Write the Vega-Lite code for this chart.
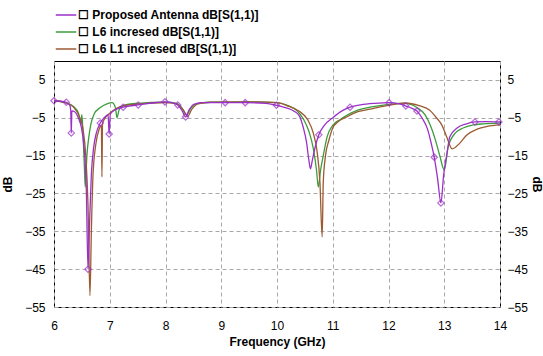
{
  "$schema": "https://vega.github.io/schema/vega-lite/v6.json",
  "width": 446,
  "height": 246,
  "autosize": "none",
  "padding": {"left": 54, "top": 61, "right": 43, "bottom": 49},
  "background": "white",
  "config": {"view": {"stroke": "black", "strokeWidth": 1}, "font": "Liberation Sans"},
  "datasets": {
    "curves": [
      {"series": "L6 incresed dB[S(1,1)]", "freq": 6.0, "dB": -0.5},
      {"series": "L6 incresed dB[S(1,1)]", "freq": 6.2, "dB": -1.0},
      {"series": "L6 incresed dB[S(1,1)]", "freq": 6.35, "dB": -2.0},
      {"series": "L6 incresed dB[S(1,1)]", "freq": 6.44, "dB": -3.8},
      {"series": "L6 incresed dB[S(1,1)]", "freq": 6.48, "dB": -6.5},
      {"series": "L6 incresed dB[S(1,1)]", "freq": 6.5, "dB": -4.2},
      {"series": "L6 incresed dB[S(1,1)]", "freq": 6.52, "dB": -9.0},
      {"series": "L6 incresed dB[S(1,1)]", "freq": 6.545, "dB": -18.0},
      {"series": "L6 incresed dB[S(1,1)]", "freq": 6.56, "dB": -23.3},
      {"series": "L6 incresed dB[S(1,1)]", "freq": 6.59, "dB": -15.0},
      {"series": "L6 incresed dB[S(1,1)]", "freq": 6.63, "dB": -9.5},
      {"series": "L6 incresed dB[S(1,1)]", "freq": 6.66, "dB": -6.8},
      {"series": "L6 incresed dB[S(1,1)]", "freq": 6.72, "dB": -4.0},
      {"series": "L6 incresed dB[S(1,1)]", "freq": 6.83, "dB": -2.3},
      {"series": "L6 incresed dB[S(1,1)]", "freq": 6.95, "dB": -1.3},
      {"series": "L6 incresed dB[S(1,1)]", "freq": 7.04, "dB": -1.0},
      {"series": "L6 incresed dB[S(1,1)]", "freq": 7.1, "dB": -2.2},
      {"series": "L6 incresed dB[S(1,1)]", "freq": 7.13, "dB": -5.0},
      {"series": "L6 incresed dB[S(1,1)]", "freq": 7.17, "dB": -2.8},
      {"series": "L6 incresed dB[S(1,1)]", "freq": 7.25, "dB": -1.7},
      {"series": "L6 incresed dB[S(1,1)]", "freq": 7.5, "dB": -1.2},
      {"series": "L6 incresed dB[S(1,1)]", "freq": 8.0, "dB": -0.9},
      {"series": "L6 incresed dB[S(1,1)]", "freq": 8.2, "dB": -1.2},
      {"series": "L6 incresed dB[S(1,1)]", "freq": 8.3, "dB": -2.5},
      {"series": "L6 incresed dB[S(1,1)]", "freq": 8.38, "dB": -4.3},
      {"series": "L6 incresed dB[S(1,1)]", "freq": 8.45, "dB": -2.5},
      {"series": "L6 incresed dB[S(1,1)]", "freq": 8.55, "dB": -1.3},
      {"series": "L6 incresed dB[S(1,1)]", "freq": 8.8, "dB": -0.9},
      {"series": "L6 incresed dB[S(1,1)]", "freq": 9.5, "dB": -0.8},
      {"series": "L6 incresed dB[S(1,1)]", "freq": 10.0, "dB": -1.0},
      {"series": "L6 incresed dB[S(1,1)]", "freq": 10.2, "dB": -1.8},
      {"series": "L6 incresed dB[S(1,1)]", "freq": 10.35, "dB": -3.0},
      {"series": "L6 incresed dB[S(1,1)]", "freq": 10.48, "dB": -5.5},
      {"series": "L6 incresed dB[S(1,1)]", "freq": 10.57, "dB": -8.5},
      {"series": "L6 incresed dB[S(1,1)]", "freq": 10.65, "dB": -13.0},
      {"series": "L6 incresed dB[S(1,1)]", "freq": 10.71, "dB": -19.0},
      {"series": "L6 incresed dB[S(1,1)]", "freq": 10.74, "dB": -23.3},
      {"series": "L6 incresed dB[S(1,1)]", "freq": 10.78, "dB": -19.0},
      {"series": "L6 incresed dB[S(1,1)]", "freq": 10.83, "dB": -15.0},
      {"series": "L6 incresed dB[S(1,1)]", "freq": 10.9, "dB": -10.0},
      {"series": "L6 incresed dB[S(1,1)]", "freq": 11.0, "dB": -7.0},
      {"series": "L6 incresed dB[S(1,1)]", "freq": 11.13, "dB": -5.5},
      {"series": "L6 incresed dB[S(1,1)]", "freq": 11.26, "dB": -4.3},
      {"series": "L6 incresed dB[S(1,1)]", "freq": 11.45, "dB": -3.0},
      {"series": "L6 incresed dB[S(1,1)]", "freq": 11.67, "dB": -2.2},
      {"series": "L6 incresed dB[S(1,1)]", "freq": 11.97, "dB": -1.5},
      {"series": "L6 incresed dB[S(1,1)]", "freq": 12.3, "dB": -1.2},
      {"series": "L6 incresed dB[S(1,1)]", "freq": 12.5, "dB": -2.2},
      {"series": "L6 incresed dB[S(1,1)]", "freq": 12.66, "dB": -4.3},
      {"series": "L6 incresed dB[S(1,1)]", "freq": 12.75, "dB": -7.0},
      {"series": "L6 incresed dB[S(1,1)]", "freq": 12.83, "dB": -10.3},
      {"series": "L6 incresed dB[S(1,1)]", "freq": 12.92, "dB": -15.0},
      {"series": "L6 incresed dB[S(1,1)]", "freq": 13.0, "dB": -18.8},
      {"series": "L6 incresed dB[S(1,1)]", "freq": 13.07, "dB": -12.7},
      {"series": "L6 incresed dB[S(1,1)]", "freq": 13.2, "dB": -9.0},
      {"series": "L6 incresed dB[S(1,1)]", "freq": 13.34, "dB": -7.7},
      {"series": "L6 incresed dB[S(1,1)]", "freq": 13.52, "dB": -6.9},
      {"series": "L6 incresed dB[S(1,1)]", "freq": 13.7, "dB": -6.6},
      {"series": "L6 incresed dB[S(1,1)]", "freq": 14.0, "dB": -6.4},

      {"series": "L6 L1 incresed dB[S(1,1)]", "freq": 6.0, "dB": -0.5},
      {"series": "L6 L1 incresed dB[S(1,1)]", "freq": 6.2, "dB": -1.0},
      {"series": "L6 L1 incresed dB[S(1,1)]", "freq": 6.35, "dB": -2.2},
      {"series": "L6 L1 incresed dB[S(1,1)]", "freq": 6.45, "dB": -4.5},
      {"series": "L6 L1 incresed dB[S(1,1)]", "freq": 6.52, "dB": -8.0},
      {"series": "L6 L1 incresed dB[S(1,1)]", "freq": 6.57, "dB": -15.0},
      {"series": "L6 L1 incresed dB[S(1,1)]", "freq": 6.61, "dB": -28.0},
      {"series": "L6 L1 incresed dB[S(1,1)]", "freq": 6.645, "dB": -52.0},
      {"series": "L6 L1 incresed dB[S(1,1)]", "freq": 6.67, "dB": -35.0},
      {"series": "L6 L1 incresed dB[S(1,1)]", "freq": 6.7, "dB": -20.0},
      {"series": "L6 L1 incresed dB[S(1,1)]", "freq": 6.75, "dB": -12.0},
      {"series": "L6 L1 incresed dB[S(1,1)]", "freq": 6.81, "dB": -8.0},
      {"series": "L6 L1 incresed dB[S(1,1)]", "freq": 6.85, "dB": -7.0},
      {"series": "L6 L1 incresed dB[S(1,1)]", "freq": 6.86, "dB": -20.6},
      {"series": "L6 L1 incresed dB[S(1,1)]", "freq": 6.87, "dB": -6.5},
      {"series": "L6 L1 incresed dB[S(1,1)]", "freq": 6.92, "dB": -5.0},
      {"series": "L6 L1 incresed dB[S(1,1)]", "freq": 7.0, "dB": -3.8},
      {"series": "L6 L1 incresed dB[S(1,1)]", "freq": 7.1, "dB": -2.7},
      {"series": "L6 L1 incresed dB[S(1,1)]", "freq": 7.25, "dB": -1.8},
      {"series": "L6 L1 incresed dB[S(1,1)]", "freq": 7.5, "dB": -1.4},
      {"series": "L6 L1 incresed dB[S(1,1)]", "freq": 8.0, "dB": -1.0},
      {"series": "L6 L1 incresed dB[S(1,1)]", "freq": 8.2, "dB": -1.3},
      {"series": "L6 L1 incresed dB[S(1,1)]", "freq": 8.32, "dB": -3.0},
      {"series": "L6 L1 incresed dB[S(1,1)]", "freq": 8.4, "dB": -4.6},
      {"series": "L6 L1 incresed dB[S(1,1)]", "freq": 8.47, "dB": -2.8},
      {"series": "L6 L1 incresed dB[S(1,1)]", "freq": 8.58, "dB": -1.3},
      {"series": "L6 L1 incresed dB[S(1,1)]", "freq": 8.8, "dB": -0.9},
      {"series": "L6 L1 incresed dB[S(1,1)]", "freq": 9.5, "dB": -0.8},
      {"series": "L6 L1 incresed dB[S(1,1)]", "freq": 10.0, "dB": -1.0},
      {"series": "L6 L1 incresed dB[S(1,1)]", "freq": 10.2, "dB": -1.9},
      {"series": "L6 L1 incresed dB[S(1,1)]", "freq": 10.4, "dB": -3.3},
      {"series": "L6 L1 incresed dB[S(1,1)]", "freq": 10.55, "dB": -5.5},
      {"series": "L6 L1 incresed dB[S(1,1)]", "freq": 10.65, "dB": -9.0},
      {"series": "L6 L1 incresed dB[S(1,1)]", "freq": 10.72, "dB": -14.0},
      {"series": "L6 L1 incresed dB[S(1,1)]", "freq": 10.77, "dB": -22.0},
      {"series": "L6 L1 incresed dB[S(1,1)]", "freq": 10.81, "dB": -36.5},
      {"series": "L6 L1 incresed dB[S(1,1)]", "freq": 10.83, "dB": -22.0},
      {"series": "L6 L1 incresed dB[S(1,1)]", "freq": 10.87, "dB": -15.0},
      {"series": "L6 L1 incresed dB[S(1,1)]", "freq": 10.93, "dB": -11.0},
      {"series": "L6 L1 incresed dB[S(1,1)]", "freq": 11.0, "dB": -7.7},
      {"series": "L6 L1 incresed dB[S(1,1)]", "freq": 11.1, "dB": -6.0},
      {"series": "L6 L1 incresed dB[S(1,1)]", "freq": 11.25, "dB": -4.8},
      {"series": "L6 L1 incresed dB[S(1,1)]", "freq": 11.45, "dB": -3.4},
      {"series": "L6 L1 incresed dB[S(1,1)]", "freq": 11.67, "dB": -2.7},
      {"series": "L6 L1 incresed dB[S(1,1)]", "freq": 11.97, "dB": -1.8},
      {"series": "L6 L1 incresed dB[S(1,1)]", "freq": 12.3, "dB": -1.1},
      {"series": "L6 L1 incresed dB[S(1,1)]", "freq": 12.55, "dB": -1.8},
      {"series": "L6 L1 incresed dB[S(1,1)]", "freq": 12.74, "dB": -3.0},
      {"series": "L6 L1 incresed dB[S(1,1)]", "freq": 12.86, "dB": -5.0},
      {"series": "L6 L1 incresed dB[S(1,1)]", "freq": 12.96, "dB": -7.0},
      {"series": "L6 L1 incresed dB[S(1,1)]", "freq": 13.05, "dB": -10.3},
      {"series": "L6 L1 incresed dB[S(1,1)]", "freq": 13.14, "dB": -13.2},
      {"series": "L6 L1 incresed dB[S(1,1)]", "freq": 13.28, "dB": -11.7},
      {"series": "L6 L1 incresed dB[S(1,1)]", "freq": 13.4, "dB": -9.6},
      {"series": "L6 L1 incresed dB[S(1,1)]", "freq": 13.59, "dB": -8.0},
      {"series": "L6 L1 incresed dB[S(1,1)]", "freq": 13.77, "dB": -7.3},
      {"series": "L6 L1 incresed dB[S(1,1)]", "freq": 14.0, "dB": -6.9},

      {"series": "Proposed Antenna dB[S(1,1)]", "freq": 6.0, "dB": -0.5},
      {"series": "Proposed Antenna dB[S(1,1)]", "freq": 6.1, "dB": -0.6},
      {"series": "Proposed Antenna dB[S(1,1)]", "freq": 6.22, "dB": -0.9},
      {"series": "Proposed Antenna dB[S(1,1)]", "freq": 6.28, "dB": -1.6},
      {"series": "Proposed Antenna dB[S(1,1)]", "freq": 6.3, "dB": -3.0},
      {"series": "Proposed Antenna dB[S(1,1)]", "freq": 6.31, "dB": -9.0},
      {"series": "Proposed Antenna dB[S(1,1)]", "freq": 6.32, "dB": -3.2},
      {"series": "Proposed Antenna dB[S(1,1)]", "freq": 6.37, "dB": -3.4},
      {"series": "Proposed Antenna dB[S(1,1)]", "freq": 6.43, "dB": -4.8},
      {"series": "Proposed Antenna dB[S(1,1)]", "freq": 6.49, "dB": -7.5},
      {"series": "Proposed Antenna dB[S(1,1)]", "freq": 6.54, "dB": -13.0},
      {"series": "Proposed Antenna dB[S(1,1)]", "freq": 6.58, "dB": -24.0},
      {"series": "Proposed Antenna dB[S(1,1)]", "freq": 6.61, "dB": -45.0},
      {"series": "Proposed Antenna dB[S(1,1)]", "freq": 6.64, "dB": -32.0},
      {"series": "Proposed Antenna dB[S(1,1)]", "freq": 6.67, "dB": -20.0},
      {"series": "Proposed Antenna dB[S(1,1)]", "freq": 6.71, "dB": -13.0},
      {"series": "Proposed Antenna dB[S(1,1)]", "freq": 6.76, "dB": -9.0},
      {"series": "Proposed Antenna dB[S(1,1)]", "freq": 6.83, "dB": -6.4},
      {"series": "Proposed Antenna dB[S(1,1)]", "freq": 6.9, "dB": -5.0},
      {"series": "Proposed Antenna dB[S(1,1)]", "freq": 6.97, "dB": -4.2},
      {"series": "Proposed Antenna dB[S(1,1)]", "freq": 6.99, "dB": -9.3},
      {"series": "Proposed Antenna dB[S(1,1)]", "freq": 7.01, "dB": -4.0},
      {"series": "Proposed Antenna dB[S(1,1)]", "freq": 7.1, "dB": -2.9},
      {"series": "Proposed Antenna dB[S(1,1)]", "freq": 7.24, "dB": -2.2},
      {"series": "Proposed Antenna dB[S(1,1)]", "freq": 7.51, "dB": -1.6},
      {"series": "Proposed Antenna dB[S(1,1)]", "freq": 7.75, "dB": -1.1},
      {"series": "Proposed Antenna dB[S(1,1)]", "freq": 7.99, "dB": -0.8},
      {"series": "Proposed Antenna dB[S(1,1)]", "freq": 8.12, "dB": -1.0},
      {"series": "Proposed Antenna dB[S(1,1)]", "freq": 8.22, "dB": -1.6},
      {"series": "Proposed Antenna dB[S(1,1)]", "freq": 8.3, "dB": -3.2},
      {"series": "Proposed Antenna dB[S(1,1)]", "freq": 8.36, "dB": -4.8},
      {"series": "Proposed Antenna dB[S(1,1)]", "freq": 8.42, "dB": -3.0},
      {"series": "Proposed Antenna dB[S(1,1)]", "freq": 8.5, "dB": -1.5},
      {"series": "Proposed Antenna dB[S(1,1)]", "freq": 8.65, "dB": -1.0},
      {"series": "Proposed Antenna dB[S(1,1)]", "freq": 9.07, "dB": -1.0},
      {"series": "Proposed Antenna dB[S(1,1)]", "freq": 9.43, "dB": -1.0},
      {"series": "Proposed Antenna dB[S(1,1)]", "freq": 9.8, "dB": -1.2},
      {"series": "Proposed Antenna dB[S(1,1)]", "freq": 9.99, "dB": -1.7},
      {"series": "Proposed Antenna dB[S(1,1)]", "freq": 10.15, "dB": -2.3},
      {"series": "Proposed Antenna dB[S(1,1)]", "freq": 10.3, "dB": -3.2},
      {"series": "Proposed Antenna dB[S(1,1)]", "freq": 10.4, "dB": -4.5},
      {"series": "Proposed Antenna dB[S(1,1)]", "freq": 10.47, "dB": -7.5},
      {"series": "Proposed Antenna dB[S(1,1)]", "freq": 10.53, "dB": -11.5},
      {"series": "Proposed Antenna dB[S(1,1)]", "freq": 10.57, "dB": -16.0},
      {"series": "Proposed Antenna dB[S(1,1)]", "freq": 10.6, "dB": -18.5},
      {"series": "Proposed Antenna dB[S(1,1)]", "freq": 10.63, "dB": -16.5},
      {"series": "Proposed Antenna dB[S(1,1)]", "freq": 10.68, "dB": -13.0},
      {"series": "Proposed Antenna dB[S(1,1)]", "freq": 10.75, "dB": -9.5},
      {"series": "Proposed Antenna dB[S(1,1)]", "freq": 10.85, "dB": -7.0},
      {"series": "Proposed Antenna dB[S(1,1)]", "freq": 11.0, "dB": -5.0},
      {"series": "Proposed Antenna dB[S(1,1)]", "freq": 11.15, "dB": -3.3},
      {"series": "Proposed Antenna dB[S(1,1)]", "freq": 11.31, "dB": -2.2},
      {"series": "Proposed Antenna dB[S(1,1)]", "freq": 11.5, "dB": -1.6},
      {"series": "Proposed Antenna dB[S(1,1)]", "freq": 11.75, "dB": -1.2},
      {"series": "Proposed Antenna dB[S(1,1)]", "freq": 12.01, "dB": -1.0},
      {"series": "Proposed Antenna dB[S(1,1)]", "freq": 12.2, "dB": -1.3},
      {"series": "Proposed Antenna dB[S(1,1)]", "freq": 12.31, "dB": -1.9},
      {"series": "Proposed Antenna dB[S(1,1)]", "freq": 12.42, "dB": -2.5},
      {"series": "Proposed Antenna dB[S(1,1)]", "freq": 12.51, "dB": -3.2},
      {"series": "Proposed Antenna dB[S(1,1)]", "freq": 12.6, "dB": -5.0},
      {"series": "Proposed Antenna dB[S(1,1)]", "freq": 12.7, "dB": -8.0},
      {"series": "Proposed Antenna dB[S(1,1)]", "freq": 12.77, "dB": -12.0},
      {"series": "Proposed Antenna dB[S(1,1)]", "freq": 12.82, "dB": -15.4},
      {"series": "Proposed Antenna dB[S(1,1)]", "freq": 12.88, "dB": -21.0},
      {"series": "Proposed Antenna dB[S(1,1)]", "freq": 12.94, "dB": -27.5},
      {"series": "Proposed Antenna dB[S(1,1)]", "freq": 12.99, "dB": -20.0},
      {"series": "Proposed Antenna dB[S(1,1)]", "freq": 13.05, "dB": -14.3},
      {"series": "Proposed Antenna dB[S(1,1)]", "freq": 13.1, "dB": -10.0},
      {"series": "Proposed Antenna dB[S(1,1)]", "freq": 13.23, "dB": -7.7},
      {"series": "Proposed Antenna dB[S(1,1)]", "freq": 13.4, "dB": -6.6},
      {"series": "Proposed Antenna dB[S(1,1)]", "freq": 13.55, "dB": -6.1},
      {"series": "Proposed Antenna dB[S(1,1)]", "freq": 13.75, "dB": -6.0},
      {"series": "Proposed Antenna dB[S(1,1)]", "freq": 14.0, "dB": -6.1}
    ],
    "markers": [
      {"freq": 6.0, "dB": -0.5},
      {"freq": 6.22, "dB": -0.9},
      {"freq": 6.31, "dB": -9.0},
      {"freq": 6.61, "dB": -45.0},
      {"freq": 6.83, "dB": -6.4},
      {"freq": 6.99, "dB": -9.3},
      {"freq": 7.24, "dB": -2.2},
      {"freq": 7.51, "dB": -1.6},
      {"freq": 7.99, "dB": -0.8},
      {"freq": 8.22, "dB": -1.6},
      {"freq": 8.36, "dB": -4.8},
      {"freq": 9.07, "dB": -1.0},
      {"freq": 9.43, "dB": -1.0},
      {"freq": 9.99, "dB": -1.7},
      {"freq": 10.75, "dB": -9.5},
      {"freq": 11.31, "dB": -2.2},
      {"freq": 12.01, "dB": -1.0},
      {"freq": 12.31, "dB": -1.9},
      {"freq": 12.51, "dB": -3.2},
      {"freq": 12.82, "dB": -15.4},
      {"freq": 12.94, "dB": -27.5},
      {"freq": 13.55, "dB": -6.1},
      {"freq": 13.98, "dB": -6.1}
    ]
  },
  "layer": [
    {
      "data": {"name": "curves"},
      "mark": {"type": "line", "interpolate": "monotone", "strokeWidth": 1.3},
      "encoding": {
        "x": {
          "field": "freq", "type": "quantitative",
          "scale": {"domain": [6, 14], "nice": false, "zero": false},
          "axis": {
            "values": [6, 7, 8, 9, 10, 11, 12, 13, 14], "format": "d",
            "grid": true, "gridDash": [4, 3], "gridColor": "#a8a8a8", "gridWidth": 1,
            "domain": false, "ticks": false, "labelPadding": 13,
            "labelFontSize": 12, "labelColor": "black", "labelFlush": false,
            "title": "Frequency (GHz)", "titleFontWeight": "bold", "titleFontSize": 12,
            "titleColor": "black", "titlePadding": 5
          }
        },
        "y": {
          "field": "dB", "type": "quantitative",
          "scale": {"domain": [-55, 10], "nice": false, "zero": false},
          "axis": {
            "orient": "left",
            "values": [5, -5, -15, -25, -35, -45, -55],
            "grid": true, "gridDash": [4, 3], "gridColor": "#a8a8a8", "gridWidth": 1,
            "domain": false, "ticks": false, "labelPadding": 9,
            "labelFontSize": 12, "labelColor": "black",
            "title": "dB", "titleFontWeight": "bold", "titleFontSize": 12,
            "titleColor": "black", "titlePadding": 10
          }
        },
        "color": {
          "field": "series", "type": "nominal",
          "scale": {
            "domain": ["Proposed Antenna dB[S(1,1)]", "L6 incresed dB[S(1,1)]", "L6 L1 incresed dB[S(1,1)]"],
            "range": ["#9b30c8", "#3c9c3c", "#9c5a32"]
          },
          "legend": {
            "orient": "none", "legendX": 1, "legendY": -57, "title": null,
            "symbolType": "stroke", "symbolSize": 420, "symbolStrokeWidth": 1.5,
            "labelFont": "Liberation Sans", "labelFontWeight": "bold",
            "labelFontSize": 12, "labelColor": "black", "rowPadding": -1,
            "labelOffset": 1, "labelLimit": 0, "labelExpr": "'☐ ' + datum.label"
          }
        }
      }
    },
    {
      "data": {"name": "markers"},
      "mark": {"type": "point", "shape": "diamond", "filled": false, "color": "#9b30c8", "size": 40, "strokeWidth": 1.2},
      "encoding": {
        "x": {"field": "freq", "type": "quantitative", "scale": {"domain": [6, 14], "nice": false, "zero": false}},
        "y": {
          "field": "dB", "type": "quantitative",
          "scale": {"domain": [-55, 10], "nice": false, "zero": false},
          "axis": {
            "orient": "right",
            "values": [5, -5, -15, -25, -35, -45, -55],
            "grid": false, "domain": false, "ticks": false, "labelPadding": 7,
            "labelFontSize": 12, "labelColor": "black",
            "title": "dB", "titleFontWeight": "bold", "titleFontSize": 12,
            "titleColor": "black", "titlePadding": 2
          }
        }
      }
    }
  ],
  "resolve": {"axis": {"y": "independent"}}
}
